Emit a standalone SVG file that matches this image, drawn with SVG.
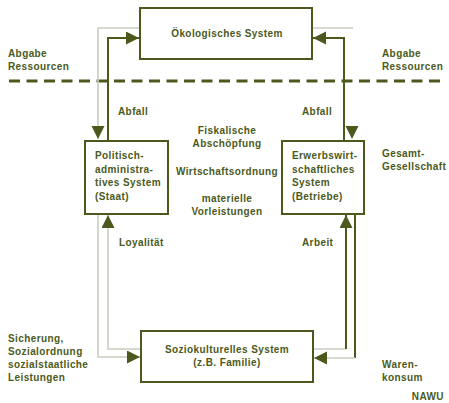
<svg xmlns="http://www.w3.org/2000/svg" width="449" height="403" viewBox="0 0 449 403">
<style>
text{font-family:"Liberation Sans",Arial,sans-serif;font-size:10px;font-weight:bold;fill:#4b5a1c;letter-spacing:0.4px}
.box{fill:#fff;stroke:#4b5a1c;stroke-width:2}
.dk{fill:none;stroke:#4b5a1c;stroke-width:2}
.gr{fill:none;stroke:#c8cec0;stroke-width:1.6}
.c{text-anchor:middle}
.ah{fill:#4b5a1c}
</style>
<defs>
<marker id="arr" markerUnits="userSpaceOnUse" markerWidth="14" markerHeight="14" refX="13" refY="6.5" orient="auto" viewBox="0 0 14 14">
<path d="M0,0 L13,6.5 L0,13 z" fill="#4b5a1c"/>
</marker>
</defs>
<rect width="449" height="403" fill="#fff"/>
<path d="M9,81 H446" fill="none" stroke="#4b5a1c" stroke-width="3" stroke-dasharray="11 6.5"/>
<g id="connectors">
<path class="gr" d="M140,28 H98 V139" marker-end="url(#arr)"/>
<path class="dk" d="M108,141 V38 H139" marker-end="url(#arr)"/>
<path class="gr" d="M312,28 H353"/>
<polygon class="ah" points="345.5,126 358.5,126 352,139"/>
<path class="dk" d="M344,141 V38 H313" marker-end="url(#arr)"/>
<path class="gr" d="M140,349 H108 V215" marker-end="url(#arr)"/>
<path class="gr" d="M98,214 V357 H140" marker-end="url(#arr)"/>
<path class="gr" d="M313,349 H346"/>
<path class="dk" d="M346,349 V215" marker-end="url(#arr)"/>
<path class="dk" d="M355,214 V358"/>
<path class="gr" d="M355,358 H314" marker-end="url(#arr)"/>
</g>
<g id="oekologisch">
<rect class="box" x="140" y="8" width="172" height="51"/>
<text class="c" x="227" y="37">Ökologisches System</text>
</g>
<g id="politisch">
<rect class="box" x="85" y="141" width="83" height="73"/>
<text x="95" y="159">Politisch-</text>
<text x="95" y="172.5">administra-</text>
<text x="95" y="186">tives System</text>
<text x="95" y="199.5">(Staat)</text>
</g>
<g id="erwerb">
<rect class="box" x="282" y="141" width="82" height="73"/>
<text x="292" y="159">Erwerbswirt-</text>
<text x="292" y="172.5">schaftliches</text>
<text x="292" y="186">System</text>
<text x="292" y="199.5">(Betriebe)</text>
</g>
<g id="sozio">
<rect class="box" x="141" y="331" width="172" height="51"/>
<text class="c" x="227" y="353">Soziokulturelles System</text>
<text class="c" x="227" y="366">(z.B. Familie)</text>
</g>
<g id="labels">
<text x="8" y="57">Abgabe</text>
<text x="8" y="70">Ressourcen</text>
<text x="382" y="57">Abgabe</text>
<text x="382" y="70">Ressourcen</text>
<text x="118" y="115">Abfall</text>
<text x="302" y="115">Abfall</text>
<text class="c" x="227" y="134">Fiskalische</text>
<text class="c" x="227" y="147">Abschöpfung</text>
<text class="c" x="227" y="175">Wirtschaftsordnung</text>
<text class="c" x="227" y="202">materielle</text>
<text class="c" x="227" y="215">Vorleistungen</text>
<text x="382" y="157">Gesamt-</text>
<text x="382" y="170">Gesellschaft</text>
<text x="119" y="246">Loyalität</text>
<text x="302" y="246">Arbeit</text>
<text x="8" y="342">Sicherung,</text>
<text x="8" y="355">Sozialordnung</text>
<text x="8" y="368">sozialstaatliche</text>
<text x="8" y="381">Leistungen</text>
<text x="382" y="368">Waren-</text>
<text x="382" y="381">konsum</text>
<text x="444" y="400" text-anchor="end">NAWU</text>
</g>
</svg>
